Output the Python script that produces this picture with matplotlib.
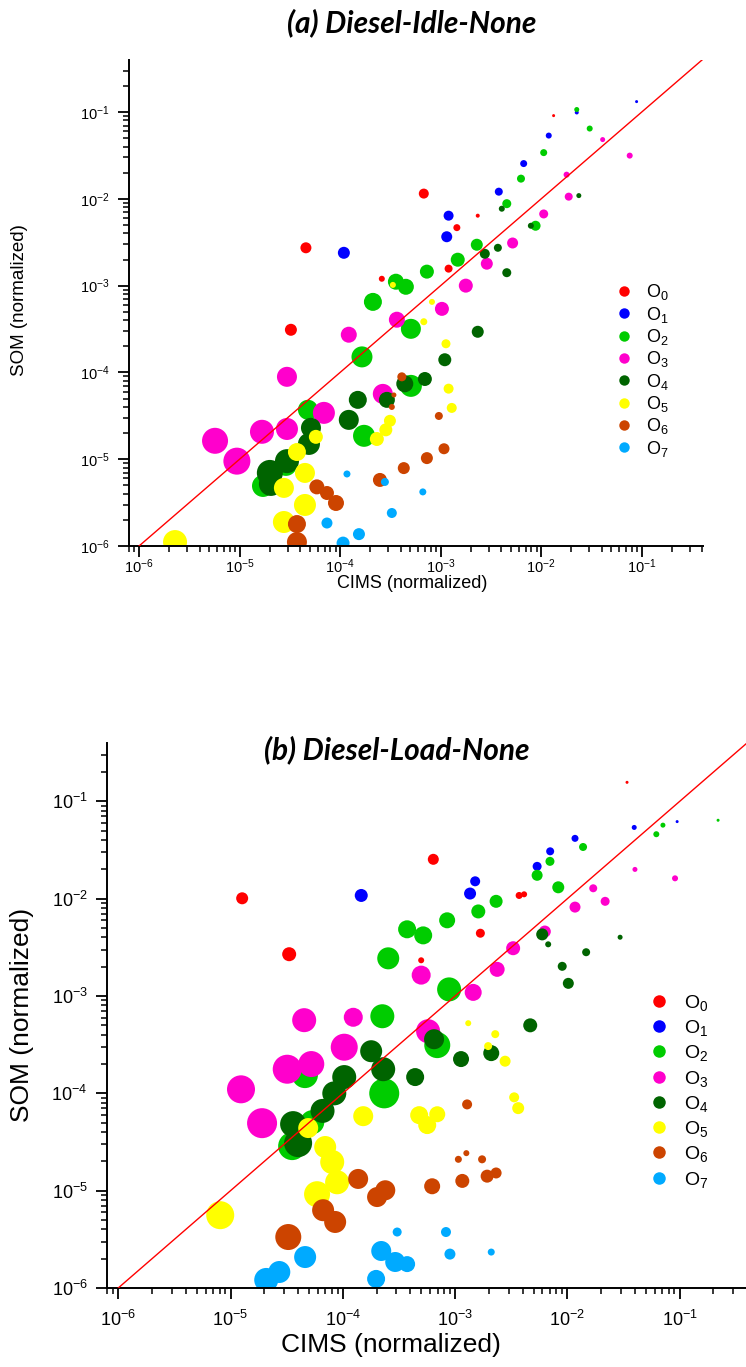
import matplotlib
matplotlib.use("Agg")
import matplotlib.pyplot as plt
from matplotlib.ticker import LogLocator, LogFormatterMathtext, NullFormatter
from matplotlib.lines import Line2D

plt.rcParams['font.family'] = ['Liberation Sans', 'DejaVu Sans']
plt.rcParams['mathtext.fontset'] = 'custom'
plt.rcParams['mathtext.rm'] = 'Liberation Sans'
plt.rcParams['mathtext.it'] = 'Liberation Sans:italic'
plt.rcParams['mathtext.bf'] = 'Liberation Sans:bold'

groups = ["O0", "O1", "O2", "O3", "O4", "O5", "O6", "O7"]
legend_labels = ["O$_{0}$", "O$_{1}$", "O$_{2}$", "O$_{3}$", "O$_{4}$", "O$_{5}$", "O$_{6}$", "O$_{7}$"]
colors = ["#ff0000", "#0000ff", "#00cc00", "#ff00cc", "#006400", "#ffff00", "#cc4400", "#00aaff"]

# ---------------- (a) Diesel-Idle-None ----------------
# CIMS (x), SOM (y), bubble diameter (px)
a_cims_O0 = [1.33e-2, 6.8e-4, 4.57e-5, 2.34e-3, 1.45e-3, 2.6e-4, 1.2e-3, 3.24e-5]
a_som_O0 = [9.1e-2, 1.15e-2, 2.73e-3, 6.4e-3, 4.66e-3, 1.2e-3, 1.57e-3, 3.1e-4]
a_d_O0 = [3, 10, 11, 4, 7, 6, 8, 12]

a_cims_O1 = [8.9e-2, 2.26e-2, 1.19e-2, 6.7e-3, 3.79e-3, 1.2e-3, 1.15e-3, 1.09e-4]
a_som_O1 = [0.132, 9.9e-2, 5.36e-2, 2.55e-2, 1.21e-2, 6.4e-3, 3.66e-3, 2.39e-3]
a_d_O1 = [3, 4, 6, 7, 8, 10, 11, 12]

a_cims_O2 = [2.26e-2, 3.04e-2, 1.06e-2, 6.3e-3, 4.55e-3, 8.8e-3, 2.29e-3, 1.48e-3, 7.3e-4, 3.59e-4,
             4.51e-4, 2.12e-4, 5.06e-4, 1.65e-4, 5.06e-4, 4.79e-5, 1.73e-4, 2.89e-5, 1.71e-5]
a_som_O2 = [0.107, 6.46e-2, 3.41e-2, 1.71e-2, 8.8e-3, 4.9e-3, 2.96e-3, 1.99e-3, 1.45e-3, 1.11e-3,
            9.7e-4, 6.5e-4, 3.18e-4, 1.51e-4, 7.0e-5, 3.71e-5, 1.86e-5, 8.6e-6, 4.92e-6]
a_d_O2 = [5, 6, 7, 8, 9, 10, 12, 14, 14, 16, 16, 18, 20, 21, 22, 20, 22, 22, 22]

a_cims_O3 = [4.09e-2, 7.6e-2, 1.79e-2, 1.88e-2, 1.06e-2, 5.2e-3, 2.88e-3, 1.78e-3, 1.03e-3,
             3.67e-4, 1.22e-4, 2.96e-5, 2.66e-4, 6.9e-5, 2.96e-5, 1.67e-5, 5.7e-6, 9.4e-6]
a_som_O3 = [4.82e-2, 3.15e-2, 1.9e-2, 1.06e-2, 6.7e-3, 3.1e-3, 1.79e-3, 1.0e-3, 5.4e-4,
            4.05e-4, 2.72e-4, 8.9e-5, 5.66e-5, 3.42e-5, 2.23e-5, 2.07e-5, 1.63e-5, 9.5e-6]
a_d_O3 = [5, 6, 6, 8, 9, 11, 12, 14, 14, 16, 16, 20, 20, 22, 22, 24, 26, 27]

a_cims_O4 = [2.37e-2, 4.06e-3, 7.9e-3, 3.71e-3, 2.75e-3, 4.55e-3, 2.34e-3, 1.1e-3, 6.97e-4,
             4.4e-4, 2.92e-4, 1.5e-4, 1.22e-4, 5.13e-5, 4.9e-5, 2.96e-5, 2.0e-5, 2.05e-5]
a_som_O4 = [1.09e-2, 7.7e-3, 4.9e-3, 2.73e-3, 2.33e-3, 1.41e-3, 2.94e-4, 1.4e-4, 8.4e-5,
            7.4e-5, 4.83e-5, 4.83e-5, 2.84e-5, 2.3e-5, 1.5e-5, 9.5e-6, 6.95e-6, 5.19e-6]
a_d_O4 = [5, 6, 6, 8, 10, 9, 12, 13, 14, 17, 16, 18, 20, 20, 22, 24, 26, 24]

a_cims_O5 = [3.35e-4, 8.2e-4, 6.8e-4, 1.13e-3, 1.2e-3, 1.29e-3, 3.13e-4, 2.85e-4, 2.32e-4,
             5.74e-5, 3.72e-5, 4.47e-5, 2.76e-5, 4.47e-5, 2.76e-5, 2.28e-6]
a_som_O5 = [1.02e-3, 6.5e-4, 3.84e-4, 2.14e-4, 6.5e-5, 3.9e-5, 2.77e-5, 2.18e-5, 1.71e-5,
            1.81e-5, 1.21e-5, 6.95e-6, 4.67e-6, 2.97e-6, 1.89e-6, 1.11e-6]
a_d_O5 = [6, 6, 7, 9, 10, 10, 12, 13, 14, 14, 18, 20, 20, 22, 22, 24]

a_cims_O6 = [4.11e-4, 3.43e-4, 3.27e-4, 9.6e-4, 1.08e-3, 7.3e-4, 4.3e-4, 2.49e-4, 5.87e-5,
             7.4e-5, 9.1e-5, 3.72e-5, 3.72e-5]
a_som_O6 = [8.9e-5, 5.5e-5, 4.0e-5, 3.15e-5, 1.32e-5, 1.03e-5, 7.9e-6, 5.77e-6, 4.8e-6,
            4.08e-6, 3.13e-6, 1.79e-6, 1.11e-6]
a_d_O6 = [9, 5, 6, 8, 11, 12, 12, 14, 15, 14, 16, 18, 20]

a_cims_O7 = [6.65e-4, 1.17e-4, 2.79e-4, 3.27e-4, 7.4e-5, 1.54e-4, 1.07e-4]
a_som_O7 = [4.2e-6, 6.76e-6, 5.47e-6, 2.4e-6, 1.84e-6, 1.37e-6, 1.08e-6]
a_d_O7 = [7, 7, 8, 10, 11, 12, 13]

# ---------------- (b) Diesel-Load-None ----------------
b_cims_O0 = [3.4e-2, 6.4e-4, 3.72e-3, 4.12e-3, 1.27e-5, 1.68e-3, 3.33e-5, 4.99e-4]
b_som_O0 = [0.157, 2.54e-2, 1.08e-2, 1.11e-2, 1.01e-2, 4.42e-3, 2.69e-3, 2.33e-3]
b_d_O0 = [3, 11, 7, 6, 12, 9, 14, 6]

b_cims_O1 = [9.5e-2, 3.94e-2, 1.17e-2, 7.03e-3, 5.38e-3, 1.51e-3, 1.36e-3, 1.46e-4]
b_som_O1 = [6.2e-2, 5.4e-2, 4.17e-2, 3.07e-2, 2.15e-2, 1.51e-2, 1.13e-2, 1.08e-2]
b_d_O1 = [3, 5, 7, 8, 9, 10, 12, 13]

b_cims_O2 = [0.22, 7.1e-2, 6.2e-2, 1.38e-2, 7.0e-3, 5.38e-3, 8.3e-3, 2.32e-3, 1.61e-3, 8.5e-4,
             3.74e-4, 5.2e-4, 2.54e-4, 8.85e-4, 2.25e-4, 6.94e-4, 2.34e-4, 4.6e-5, 5.35e-5, 3.54e-5]
b_som_O2 = [6.4e-2, 5.7e-2, 4.6e-2, 3.4e-2, 2.42e-2, 1.74e-2, 1.31e-2, 9.4e-3, 7.4e-3, 6.0e-3,
            4.85e-3, 4.2e-3, 2.44e-3, 1.17e-3, 6.2e-4, 3.13e-4, 1.0e-4, 1.54e-4, 5.06e-5, 2.87e-5]
b_d_O2 = [3, 5, 6, 8, 9, 11, 12, 13, 14, 16, 18, 18, 22, 24, 24, 26, 30, 26, 24, 28]

b_cims_O3 = [4.0e-2, 9.1e-2, 1.7e-2, 2.17e-2, 1.17e-2, 6.3e-3, 3.29e-3, 2.37e-3, 4.99e-4,
             1.45e-3, 4.53e-5, 1.24e-4, 5.75e-4, 1.03e-4, 3.2e-5, 5.24e-5, 1.24e-5, 1.91e-5]
b_som_O3 = [2.0e-2, 1.62e-2, 1.28e-2, 9.4e-3, 8.2e-3, 4.6e-3, 3.1e-3, 1.88e-3, 1.64e-3,
            1.09e-3, 5.65e-4, 6.05e-4, 4.35e-4, 2.98e-4, 1.77e-4, 2.0e-4, 1.1e-4, 4.94e-5]
b_d_O3 = [5, 6, 8, 9, 11, 12, 14, 15, 19, 17, 24, 19, 24, 27, 29, 26, 28, 30]

b_cims_O4 = [2.95e-2, 6.75e-3, 1.47e-2, 5.97e-3, 9.0e-3, 1.02e-2, 4.67e-3, 6.5e-4, 2.1e-3,
             1.13e-3, 1.79e-4, 2.29e-4, 4.41e-4, 1.03e-4, 8.4e-5, 6.6e-5, 3.61e-5, 4.0e-5]
b_som_O4 = [4.02e-3, 3.4e-3, 2.82e-3, 4.3e-3, 2.02e-3, 1.35e-3, 5.0e-4, 3.6e-4, 2.59e-4,
            2.25e-4, 2.71e-4, 1.77e-4, 1.47e-4, 1.47e-4, 1.0e-4, 6.6e-5, 4.83e-5, 3.08e-5]
b_d_O4 = [5, 6, 8, 12, 9, 11, 14, 20, 16, 16, 22, 24, 18, 24, 24, 24, 26, 28]

b_cims_O5 = [1.31e-3, 2.28e-3, 1.97e-3, 2.79e-3, 3.36e-3, 3.65e-3, 1.52e-4, 4.79e-4, 6.94e-4,
             5.65e-4, 4.92e-5, 6.97e-5, 8.05e-5, 8.9e-5, 5.9e-5, 8.1e-6]
b_som_O5 = [5.26e-4, 4.06e-4, 3.06e-4, 2.14e-4, 9.1e-5, 7.05e-5, 5.83e-5, 5.97e-5, 6.1e-5,
            4.72e-5, 4.4e-5, 2.81e-5, 1.97e-5, 1.22e-5, 9.2e-6, 5.6e-6]
b_d_O5 = [6, 8, 8, 11, 10, 12, 20, 18, 16, 18, 20, 22, 24, 24, 26, 28]

b_cims_O6 = [1.28e-3, 1.26e-3, 1.07e-3, 1.74e-3, 2.32e-3, 1.93e-3, 1.16e-3, 6.25e-4, 1.37e-4,
             2.39e-4, 2.02e-4, 6.68e-5, 8.55e-5, 3.27e-5]
b_som_O6 = [7.7e-5, 2.43e-5, 2.1e-5, 2.1e-5, 1.52e-5, 1.41e-5, 1.26e-5, 1.11e-5, 1.32e-5,
            1.01e-5, 8.6e-6, 6.3e-6, 4.77e-6, 3.34e-6]
b_d_O6 = [10, 6, 7, 8, 11, 13, 14, 16, 20, 20, 20, 22, 22, 26]

b_cims_O7 = [2.1e-3, 8.3e-4, 9.0e-4, 3.05e-4, 3.74e-4, 2.93e-4, 2.2e-4, 1.98e-4, 4.62e-5,
             2.72e-5, 2.08e-5]
b_som_O7 = [2.34e-6, 3.76e-6, 2.23e-6, 3.76e-6, 1.76e-6, 1.85e-6, 2.4e-6, 1.24e-6, 2.08e-6,
            1.46e-6, 1.21e-6]
b_d_O7 = [7, 10, 11, 9, 16, 20, 20, 18, 22, 22, 24]

a_series = [(a_cims_O0, a_som_O0, a_d_O0), (a_cims_O1, a_som_O1, a_d_O1),
            (a_cims_O2, a_som_O2, a_d_O2), (a_cims_O3, a_som_O3, a_d_O3),
            (a_cims_O4, a_som_O4, a_d_O4), (a_cims_O5, a_som_O5, a_d_O5),
            (a_cims_O6, a_som_O6, a_d_O6), (a_cims_O7, a_som_O7, a_d_O7)]
b_series = [(b_cims_O0, b_som_O0, b_d_O0), (b_cims_O1, b_som_O1, b_d_O1),
            (b_cims_O2, b_som_O2, b_d_O2), (b_cims_O3, b_som_O3, b_d_O3),
            (b_cims_O4, b_som_O4, b_d_O4), (b_cims_O5, b_som_O5, b_d_O5),
            (b_cims_O6, b_som_O6, b_d_O6), (b_cims_O7, b_som_O7, b_d_O7)]

W, H = 746, 1367
fig = plt.figure(figsize=(W / 100, H / 100), dpi=100)


def px_axes(left, top, right, bottom):
    return fig.add_axes([left / W, 1 - bottom / H, (right - left) / W, (bottom - top) / H])


def draw_panel(ax, series, tick_size, xpad, ypad, leg_size, leg_marker, leg_anchor, leg_space, leg_pad):
    for (xs, ys, ds), col in zip(series, colors):
        ax.scatter(xs, ys, s=[(d * 0.72) ** 2 for d in ds], color=col, linewidths=0, zorder=2)
    ax.plot([1e-6, 1], [1e-6, 1], color="red", lw=1.0, zorder=3)
    ax.set_xscale("log")
    ax.set_yscale("log")
    ax.set_xlim(10 ** -6.1, 10 ** -0.39)
    ax.set_ylim(1e-6, 10 ** -0.4)
    for a in (ax.xaxis, ax.yaxis):
        a.set_major_locator(LogLocator(base=10, numticks=20))
        a.set_minor_locator(LogLocator(base=10, subs=range(2, 10), numticks=20))
        a.set_major_formatter(LogFormatterMathtext())
        a.set_minor_formatter(NullFormatter())
    ax.spines["top"].set_visible(False)
    ax.spines["right"].set_visible(False)
    for s in ("left", "bottom"):
        ax.spines[s].set_linewidth(1.4)
    ax.tick_params(which="major", direction="out", length=8, width=1.3, labelsize=tick_size)
    ax.tick_params(which="minor", direction="out", length=4.5, width=1.1)
    ax.tick_params(axis="x", which="major", pad=xpad)
    ax.tick_params(axis="y", which="major", pad=ypad)
    handles = [Line2D([], [], ls="none", marker="o", markersize=leg_marker, color=c, markeredgewidth=0)
               for c in colors]
    ax.legend(handles, legend_labels, loc="upper left", bbox_to_anchor=leg_anchor,
              bbox_transform=fig.transFigure, frameon=False, fontsize=leg_size,
              handletextpad=leg_pad, labelspacing=leg_space, borderaxespad=0, handlelength=1.0)


# panel (a)
ax_a = px_axes(129, 60, 703, 546)
draw_panel(ax_a, a_series, 10.5, 0, 6, 13, 7.5, (608 / W, 1 - 275 / H), 0.13, 0.72)
fig.text(412 / W, 1 - 23 / H, "(a) Diesel-Idle-None", ha="center", va="center",
         fontsize=21.5, fontweight="bold", fontstyle="italic", family=["Lato", "DejaVu Sans"])
fig.text(412 / W, 1 - 584 / H, "CIMS (normalized)", ha="center", va="center", fontsize=13)
fig.text(20 / W, 1 - 300 / H, "SOM (normalized)", ha="center", va="center", fontsize=13.5,
         rotation=90)

# panel (b)
ax_b = px_axes(107, 743, 747, 1288)
draw_panel(ax_b, b_series, 13, 8, 6, 14, 9, (641 / W, 1 - 985 / H), 0.27, 0.8)
ax_b.set_xlim(10 ** -6.1, 10 ** -0.4)
fig.text(397 / W, 1 - 750 / H, "(b) Diesel-Load-None", ha="center", va="center",
         fontsize=21.5, fontweight="bold", fontstyle="italic", family=["Lato", "DejaVu Sans"])
fig.text(391 / W, 1 - 1345 / H, "CIMS (normalized)", ha="center", va="center", fontsize=19)
fig.text(22 / W, 1 - 1015 / H, "SOM (normalized)", ha="center", va="center", fontsize=19,
         rotation=90)

fig.savefig("out.png", dpi=100)
